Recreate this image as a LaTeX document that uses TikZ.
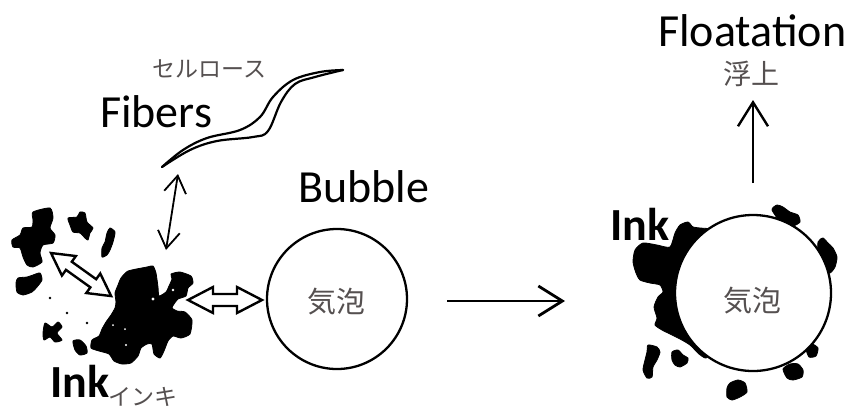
\documentclass[tikz,border=0pt]{standalone}
\usepackage{fontspec}
\setmainfont{Carlito}
\newfontfamily\jpfont{Noto Sans CJK JP}
\usetikzlibrary{arrows.meta}
\definecolor{jpgray}{RGB}{85,80,80}
\begin{document}
\begin{tikzpicture}[x=1pt,y=-1pt,
  lbl/.style={font=\fontsize{46}{50}\selectfont, inner sep=0, anchor=base west},
  blbl/.style={font=\fontsize{46}{50}\selectfont\bfseries, inner sep=0, anchor=base west},
  jp/.style={font=\jpfont\fontsize{23}{26}\selectfont, text=jpgray, inner sep=0},
  jpbig/.style={font=\jpfont\fontsize{29}{32}\selectfont, text=jpgray, inner sep=0},
  ink/.style={fill=black, draw=black, line width=0.8, line join=round},
  bubble/.style={circle, draw, line width=2.3, fill=white, inner sep=0},
  thinarrow/.style={line width=1.8, {Straight Barb[length=17pt,width=22pt]}-{Straight Barb[length=17pt,width=22pt]}},
  bigarrow/.style={line width=2.8, -{Straight Barb[length=24pt,width=30pt]}},
  hollow/.style={draw, line width=2.4, fill=white, line join=miter},
  fiber/.style={line width=2.2, line cap=round}
]
\useasboundingbox (0,0) rectangle (854,416);

% ---- cellulose fiber ----
\draw[fiber] plot[smooth, tension=0.6] coordinates {(162,167) (183,150) (207,138) (240,130) (260,117) (273,97) (293,80) (320,72) (343,70)};
\draw[fiber] plot[smooth, tension=0.6] coordinates {(162,167) (190,150) (217,141) (253,137) (268,131) (281,102) (295,84) (315,77) (343,70)};
\coordinate (fibtip) at (178,174);
\node[jp, anchor=base west] (cellulose) at (152,77) {セルロース};
\node[lbl] (fibers) at (100,127) {Fibers};

% ---- loose ink particles ----
\fill[ink] plot[smooth cycle, tension=0.4] coordinates {(33,212) (50,208) (53,218) (50,228) (55,235) (53,243) (43,245) (40,253) (42,262) (33,267) (27,265) (23,257) (20,248) (13,247) (12,240) (20,235) (23,228) (32,227) (33,220)};
\fill[ink] plot[smooth cycle, tension=0.4] coordinates {(68,218) (77,217) (80,212) (85,213) (87,222) (93,228) (90,233) (88,240) (85,238) (80,233) (73,232) (70,225)};
\fill[ink] plot[smooth cycle, tension=0.4] coordinates {(110,228) (115,232) (113,242) (110,250) (107,255) (102,257) (102,248) (105,242) (107,233)};
\fill[ink] plot[smooth cycle, tension=0.4] coordinates {(18,278) (27,277) (33,275) (40,273) (42,280) (37,287) (32,292) (23,295) (17,292) (16,283)};
\fill[ink] plot[smooth cycle, tension=0.4] coordinates {(45,323) (52,327) (58,322) (62,327) (57,333) (62,340) (55,342) (50,337) (44,340) (43,333)};
\fill[ink] plot[smooth cycle, tension=0.4] coordinates {(73,341) (80,340) (86,346) (87,353) (80,355) (75,350)};
\fill (50,298) circle (1.3) (67,313) circle (1.3) (87,323) circle (1.3);

% ---- main ink cluster ----
\fill[ink] plot[smooth cycle, tension=0.35] coordinates {(128,271) (147,267) (153,266) (156,273) (158,287) (159,296) (166,292) (169,286) (172,279) (171,274) (180,272) (191,276) (193,283) (188,288) (186,296) (178,299) (174,304) (172,308) (177,311) (185,312) (192,320) (190,334) (181,338) (173,336) (168,341) (164,351) (160,358) (154,354) (152,344) (147,344) (141,348) (138,356) (131,363) (122,364) (114,361) (109,354) (99,351) (91,348) (92,340) (99,336) (102,329) (106,322) (111,315) (115,308) (116,302) (115,293) (118,285) (121,278)};
\fill[white] (153,299) circle (1.6) (173,290) circle (1.4) (126,345) circle (1.2) (113,325) circle (1) (125,329) circle (1);
\coordinate (inktop) at (166,250);
\coordinate (inkright) at (188,300);
\node[blbl] (inkL) at (50,397) {Ink};
\node[jp, anchor=base west] (inkLjp) at (108,405) {インキ};

% ---- bubble before flotation ----
\node[bubble, minimum size=140] (bubbleL) at (337,299) {};
\node[jpbig] (kihouL) at (336,302) {気泡};
\node[lbl] (bubbletxt) at (298,202) {Bubble};

% ---- interactions ----
\draw[thinarrow] (fibtip) -- (inktop);
% hollow double arrow ink <-> bubble
\draw[hollow] (inkright) -- ++(25,-13) -- ++(0,7) -- ++(24,0) -- ++(0,-7) -- ++(25,13) -- ++(-25,13) -- ++(0,-7) -- ++(-24,0) -- ++(0,7) -- cycle;
% hollow double arrow between ink particles
\begin{scope}[shift={(51,253)}, rotate=-35.6]
  \coordinate (dA) at (0,0);
  \draw[hollow] (dA) -- ++(22,-12) -- ++(0,7) -- ++(30,0) -- ++(0,-7) -- ++(22,12) -- ++(-22,12) -- ++(0,-7) -- ++(-30,0) -- ++(0,7) -- cycle;
\end{scope}

% ---- process arrow ----
\coordinate (procA) at (447,301);
\coordinate (procB) at (565,301);
\draw[bigarrow] (procA) -- (procB);

% ---- bubble with attached ink ----
\fill[ink] plot[smooth cycle, tension=0.4] coordinates {(675,233) (680,225) (688,222) (693,227) (700,228) (715,232) (722,270) (714,320) (712,350) (706,358) (699,354) (690,345) (680,339) (670,334) (662,330) (655,325) (657,318) (654,307) (658,297) (663,292) (660,285) (650,283) (640,280) (636,273) (633,262) (635,250) (643,243) (657,245) (670,247)};
\fill[ink] plot[smooth cycle, tension=0.4] coordinates {(772,210) (777,205) (783,207) (790,212) (798,215) (800,222) (793,226) (783,225)};
\fill[ink] plot[smooth cycle, tension=0.4] coordinates {(818,242) (823,238) (828,243) (833,248) (837,257) (835,267) (830,273) (822,272) (818,257)};
\fill[ink] plot[smooth cycle, tension=0.4] coordinates {(806,348) (812,344) (818,348) (816,356) (809,357)};
\fill[ink] plot[smooth cycle, tension=0.4] coordinates {(783,369) (790,364) (798,364) (803,370) (802,377) (793,380) (787,378)};
\fill[ink] plot[smooth cycle, tension=0.4] coordinates {(648,345) (657,347) (660,352) (657,360) (653,367) (652,377) (647,378) (643,370) (645,360) (647,352)};
\fill[ink] plot[smooth cycle, tension=0.4] coordinates {(672,352) (678,350) (683,355) (688,358) (687,363) (680,367) (675,365) (672,360)};
\fill[ink] plot[smooth cycle, tension=0.4] coordinates {(730,383) (738,380) (745,383) (747,392) (740,397) (732,400) (727,397) (727,388)};
\node[bubble, minimum size=156] (bubbleR) at (753,293) {};
\node[jpbig] (kihouR) at (752,301) {気泡};
\node[blbl] (inkR) at (610,240) {Ink};

% ---- flotation ----
\coordinate (floatA) at (753,183);
\coordinate (floatB) at (753,100);
\draw[bigarrow, line width=2.4] (floatA) -- (floatB);
\node[jp, font=\jpfont\fontsize{28}{30}\selectfont] (fujo) at (751,74) {浮上};
\node[lbl] (floatation) at (658,46) {Floatation};
\end{tikzpicture}
\end{document}
